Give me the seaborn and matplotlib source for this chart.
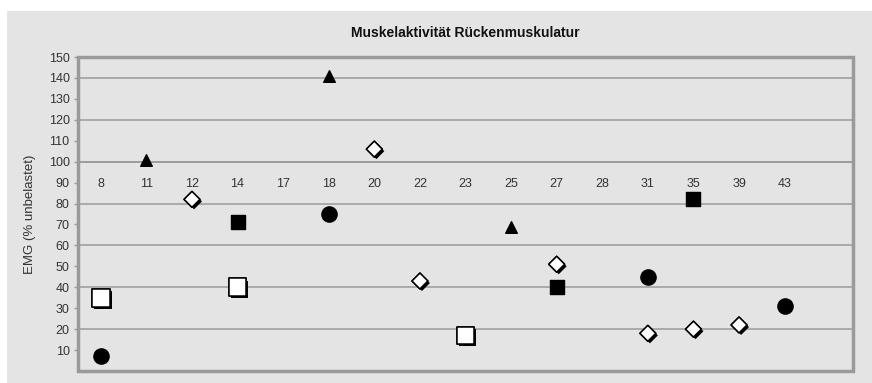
import pandas as pd
import seaborn as sns
import matplotlib.pyplot as plt
import matplotlib.patheffects as pe
from matplotlib.patches import Rectangle

# categories on the x axis (last slot is empty in the original)
categories = ["8", "11", "12", "14", "17", "18", "20", "22", "23", "25",
              "27", "28", "31", "35", "39", "43", ""]

# one list per marker series: (category, EMG value)
circle_cat = ["8", "18", "31", "43"]
circle_val = [7, 75, 45, 31]
open_square_cat = ["8", "14", "23"]
open_square_val = [35, 40, 17]
filled_square_cat = ["14", "27", "35"]
filled_square_val = [71, 40, 82]
triangle_cat = ["11", "18", "25"]
triangle_val = [101, 141, 69]
diamond_cat = ["12", "20", "22", "27", "31", "35", "39"]
diamond_val = [82, 106, 43, 51, 18, 20, 22]

bg = "#e4e4e4"
line_col = "#9a9a9a"

sns.set_style("white")
plt.rcParams["font.family"] = ["Liberation Sans", "DejaVu Sans"]

def frame(cats, vals, name):
    return pd.DataFrame({"cat": cats, "val": vals, "series": name})

df = pd.concat([
    frame(circle_cat, circle_val, "circle"),
    frame(open_square_cat, open_square_val, "open_square"),
    frame(filled_square_cat, filled_square_val, "filled_square"),
    frame(triangle_cat, triangle_val, "triangle"),
    frame(diamond_cat, diamond_val, "diamond"),
])
df["x"] = df["cat"].map({c: i for i, c in enumerate(categories)})

fig = plt.figure(figsize=(8.72, 3.83), dpi=100)
fig.patch.set_facecolor("white")
fig.patches.append(Rectangle((7 / 872, 0), 1, (383 - 11) / 383, transform=fig.transFigure,
                             facecolor=bg, edgecolor="none", zorder=-10))
ax = fig.add_axes([78 / 872, 12 / 383, (853 - 78) / 872, (371 - 57) / 383])
ax.set_zorder(1)
ax.set_facecolor(bg)

# gridlines every 20
for v in range(20, 150, 20):
    ax.axhline(v, color=line_col, lw=1.1, zorder=1)

styles = {
    "circle": dict(marker="o", s=120, color="black", edgecolor="black"),
    "filled_square": dict(marker="s", s=95, color="black", edgecolor="black"),
    "triangle": dict(marker="^", s=70, color="black", edgecolor="black"),
}
for name, kw in styles.items():
    sub = df[df["series"] == name]
    sns.scatterplot(data=sub, x="x", y="val", ax=ax, linewidth=1, zorder=3,
                    legend=False, **kw)

shadow = [pe.withSimplePatchShadow(offset=(1.5, -1.5), shadow_rgbFace="black", alpha=1),
          pe.Normal()]
open_styles = {
    "open_square": dict(marker="s", s=160),
    "diamond": dict(marker="D", s=65),
}
for name, kw in open_styles.items():
    sub = df[df["series"] == name]
    sns.scatterplot(data=sub, x="x", y="val", ax=ax, color="white",
                    edgecolor="black", linewidth=1.1, zorder=4, legend=False, **kw)
    ax.collections[-1].set_path_effects(shadow)

ax.set_xlim(-0.5, len(categories) - 0.5)
ax.set_ylim(0, 150)

# category axis crosses at 100
ax.spines["bottom"].set_position(("data", 100))
ax.spines["bottom"].set_color(line_col)
ax.spines["bottom"].set_linewidth(1.1)
for s in ["top", "right", "left"]:
    ax.spines[s].set_visible(False)
ax.add_patch(Rectangle((0, 0), 1, 1, transform=ax.transAxes, fill=False,
                       edgecolor=line_col, lw=2.5, clip_on=False, zorder=5))

ax.set_xticks(range(len(categories)))
ax.set_xticklabels(categories)
ax.set_xticks([i + 0.5 for i in range(len(categories))], minor=True)
ax.tick_params(axis="x", which="major", length=0, pad=12, labelsize=9, colors="#333333")
ax.tick_params(axis="x", which="minor", length=3, width=1, direction="out", color=line_col)

ax.set_yticks(range(10, 151, 10))
ax.tick_params(axis="y", which="major", length=3, width=1, direction="out", color=line_col,
               labelsize=9, labelcolor="#333333", pad=3)
ax.yaxis.set_ticks_position("left")

ax.set_xlabel("")
ax.set_ylabel("EMG (% unbelastet)", fontsize=9.5, color="#333333", labelpad=9)

fig.text((78 + 853) / 2 / 872, 1 - 33 / 383, "Muskelaktivität Rückenmuskulatur",
         ha="center", va="center", fontsize=10, fontweight="bold", color="#111111")

fig.savefig("out.png", dpi=100, facecolor=fig.get_facecolor())
